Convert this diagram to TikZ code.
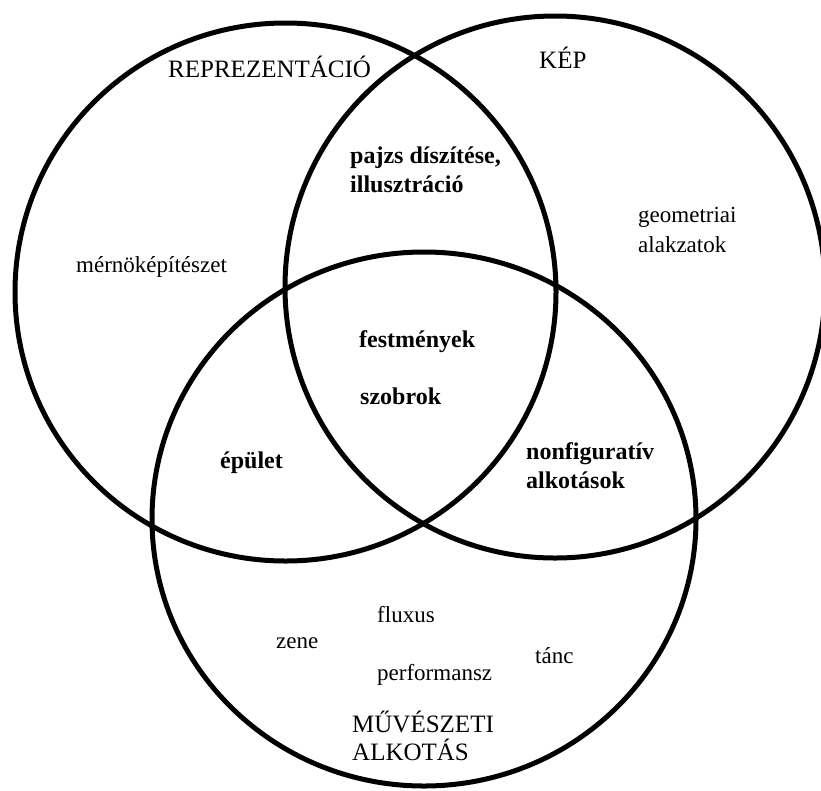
\documentclass[tikz,border=0pt]{standalone}
\usepackage{fontspec}
\setmainfont{Liberation Serif}

\begin{document}
\begin{tikzpicture}[x=1pt,y=-1pt,
		every node/.style={anchor=base west,inner sep=0pt},
		set/.style={line width=5pt},
		title/.style={font=\fontsize{25}{28}\selectfont,align=left},
		item/.style={font=\fontsize{23}{30}\selectfont,align=left},
		both/.style={font=\bfseries\fontsize{24}{29}\selectfont,align=left}]
				\useasboundingbox (0,0) rectangle (821,790);
				\clip (0,0) rectangle (821,790);
				% the three sets
				\draw[set] (285.5,292) ellipse [x radius=270.5pt, y radius=269pt];
				\draw[set] (555,287) ellipse [x radius=270pt, y radius=271pt];
				\draw[set] (424,519) ellipse [x radius=272pt, y radius=267pt];
				% set names (multi-line nodes sit on their last line)
				\node[title] (repr) at (168,77) {REPREZENTÁCIÓ};
				\node[title] (kep) at (539,68) {KÉP};
				\node[title] (muv) at (352,760) {MŰVÉSZETI\\ALKOTÁS};
				% members
				\node[item] (mern) at (76,272) {mérnöképítészet};
				\node[item] (geom) at (638,252) {geometriai\\alakzatok};
				\node[both] (pajzs) at (350,192) {pajzs díszítése,\\illusztráció};
				\node[both] (fest) at (359,347) {festmények};
				\node[both] (szob) at (360,404) {szobrok};
				\node[both] (epul) at (220,468) {épület};
				\node[both] (nonf) at (526,488) {nonfiguratív\\alkotások};
				\node[item] (flux) at (377,622) {fluxus};
				\node[item] (zene) at (276,648) {zene};
				\node[item] (tanc) at (535,663) {tánc};
				\node[item] (perf) at (377,680) {performansz};
			\end{tikzpicture}
\end{document}
